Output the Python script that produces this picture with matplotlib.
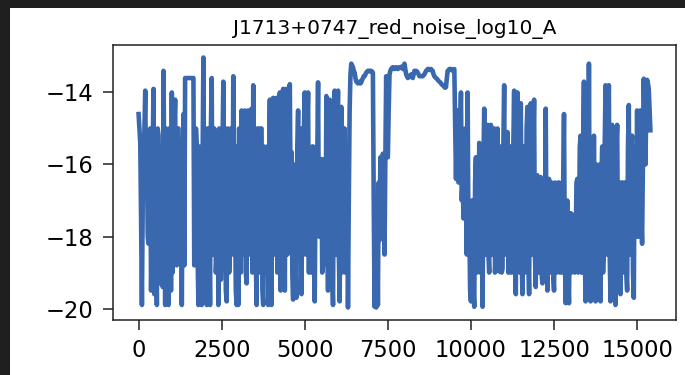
import matplotlib
matplotlib.use("Agg")
import matplotlib.pyplot as plt
import numpy as np
from matplotlib.patches import Rectangle

title = "J1713+0747_red_noise_log10_A"
step = 25

# red noise log10_A chain, one value every 25 iterations (20 values per row)
log10_A = [
    -14.6, -15.0, -15.4, -17.5, -19.9, -17.0, -16.2, -15.0, -13.95, -16.5, -15.8, -18.0, -18.2, -16.0, -15.0, -19.5, -18.0, -15.5, -13.9, -19.6,
    -16.5, -18.0, -19.9, -15.0, -15.2, -19.3, -18.9, -15.5, -16.0, -19.4, -13.4, -16.5, -19.9, -15.0, -15.5, -19.0, -19.9, -15.0, -16.2, -19.5,
    -14.0, -19.0, -17.5, -15.0, -14.2, -18.0, -18.8, -15.0, -15.0, -18.5, -17.0, -15.5, -19.9, -16.5, -14.6, -18.8, -13.6, -13.6, -13.6, -13.6,
    -13.6, -13.6, -13.6, -13.6, -13.6, -13.6, -13.6, -18.8, -18.0, -15.0, -15.5, -18.5, -19.9, -15.5, -16.8, -19.5, -19.9, -16.0, -13.03, -17.5,
    -15.7, -19.5, -19.9, -15.0, -15.0, -18.0, -19.9, -15.0, -13.6, -18.5, -17.5, -15.0, -15.2, -19.0, -18.5, -15.5, -19.9, -15.0, -15.5, -19.2,
    -17.8, -15.5, -13.7, -17.0, -16.2, -19.5, -19.8, -15.0, -15.5, -19.0, -18.0, -15.0, -15.0, -18.5, -13.55, -16.0, -17.0, -19.5, -19.9, -15.5,
    -19.9, -15.0, -16.0, -19.0, -14.5, -16.5, -18.5, -15.0, -14.5, -19.0, -19.3, -15.0, -14.5, -18.5, -17.5, -15.0, -14.45, -19.0, -13.8, -16.5,
    -16.5, -18.5, -19.9, -15.0, -15.0, -19.0, -18.5, -15.0, -15.0, -19.5, -19.9, -15.5, -16.6, -19.0, -18.0, -15.5, -19.9, -16.0, -14.2, -18.5,
    -19.9, -15.0, -14.15, -18.5, -18.0, -15.0, -14.15, -19.0, -17.5, -15.0, -14.0, -19.5, -16.5, -18.5, -13.9, -16.5, -19.5, -15.0, -13.9, -18.5,
    -17.0, -15.0, -13.77, -17.0, -15.65, -19.0, -19.75, -16.0, -16.5, -19.0, -19.7, -15.5, -14.5, -18.5, -18.0, -15.0, -19.6, -17.0, -16.5, -15.0,
    -14.0, -18.5, -17.5, -15.0, -14.0, -19.0, -16.8, -18.5, -19.0, -15.5, -15.5, -18.5, -19.8, -16.5, -16.0, -15.9, -13.72, -18.0, -17.5, -15.9,
    -15.85, -19.0, -18.8, -16.0, -15.85, -18.5, -14.1, -17.5, -19.5, -15.5, -14.2, -18.5, -17.0, -19.0, -19.9, -15.5, -13.95, -18.0, -18.5, -15.0,
    -13.95, -18.5, -19.8, -15.5, -14.4, -19.0, -17.5, -15.0, -15.0, -19.0, -19.0, -15.5, -19.97, -17.0, -14.5, -13.5, -13.2, -13.25, -13.3, -13.4,
    -13.45, -13.6, -13.7, -13.72, -13.75, -13.72, -13.7, -13.75, -13.72, -13.65, -13.6, -13.55, -13.55, -13.5, -13.45, -13.42, -13.4, -13.4, -13.4, -13.42,
    -13.4, -13.42, -13.45, -17.0, -19.95, -18.5, -19.97, -17.0, -19.9, -16.5, -18.1, -15.8, -16.3, -18.0, -15.7, -17.5, -18.5, -15.8, -13.55, -15.8,
    -15.8, -14.5, -13.5, -13.4, -13.35, -13.32, -13.3, -13.32, -13.35, -13.32, -13.3, -13.32, -13.35, -13.32, -13.3, -13.3, -13.3, -13.28, -13.35, -13.3,
    -13.2, -13.35, -13.5, -13.55, -13.6, -13.58, -13.55, -13.52, -13.5, -13.55, -13.6, -13.5, -13.4, -13.42, -13.4, -13.42, -13.45, -13.5, -13.55, -13.55,
    -13.55, -13.55, -13.55, -13.52, -13.5, -13.45, -13.4, -13.38, -13.35, -13.35, -13.35, -13.38, -13.35, -13.38, -13.4, -13.5, -13.55, -13.58, -13.6, -13.62,
    -13.65, -13.68, -13.7, -13.72, -13.75, -13.78, -13.8, -13.82, -13.85, -13.87, -13.85, -13.6, -13.4, -13.38, -13.35, -13.35, -13.35, -13.38, -13.4, -13.38,
    -13.35, -14.8, -16.4, -15.0, -14.5, -16.5, -16.4, -15.0, -14.0, -17.0, -16.2, -17.5, -17.3, -15.0, -15.0, -18.5, -14.0, -18.0, -17.5, -19.5,
    -19.8, -17.0, -17.0, -19.5, -19.95, -16.5, -15.8, -19.0, -17.5, -18.5, -15.4, -19.0, -19.0, -17.5, -19.95, -16.0, -14.45, -18.5, -18.5, -15.5,
    -14.9, -18.5, -19.0, -15.5, -14.9, -18.5, -17.8, -15.5, -15.0, -19.0, -18.5, -15.5, -15.0, -18.5, -18.97, -15.5, -16.0, -19.0, -18.9, -15.5,
    -13.8, -18.5, -18.0, -15.5, -15.1, -19.0, -19.0, -15.5, -15.5, -19.0, -17.8, -15.5, -13.95, -18.5, -19.6, -16.0, -14.0, -18.5, -17.0, -19.0,
    -14.3, -18.5, -19.6, -15.5, -15.5, -19.0, -18.0, -15.0, -14.4, -18.5, -19.6, -15.5, -14.3, -18.5, -18.5, -15.5, -14.2, -18.5, -19.4, -16.5,
    -16.3, -19.0, -18.0, -16.5, -16.35, -19.0, -19.3, -16.5, -16.6, -18.5, -14.45, -18.5, -19.5, -16.5, -16.4, -19.0, -18.5, -16.5, -16.6, -19.0,
    -19.5, -16.5, -16.7, -19.0, -18.0, -16.5, -16.5, -19.0, -17.5, -16.8, -19.0, -16.5, -14.6, -18.5, -19.85, -17.5, -17.0, -19.0, -19.85, -17.5,
    -17.35, -19.0, -18.8, -17.4, -17.4, -19.0, -18.5, -16.5, -16.4, -19.0, -18.0, -15.5, -15.2, -19.0, -19.0, -15.5, -13.7, -18.5, -19.8, -16.0,
    -15.5, -18.5, -13.2, -18.5, -19.8, -16.0, -16.0, -19.0, -15.2, -18.5, -19.8, -16.0, -16.5, -19.0, -18.5, -16.0, -19.8, -16.5, -15.5, -19.0,
    -18.2, -15.5, -13.8, -18.5, -17.0, -15.0, -13.8, -18.5, -19.8, -15.5, -14.9, -18.5, -17.5, -19.0, -19.9, -15.5, -14.9, -18.5, -16.5, -19.0,
    -19.6, -16.5, -16.5, -19.0, -18.5, -16.5, -16.6, -19.0, -19.5, -15.5, -14.35, -18.5, -17.0, -15.5, -15.2, -19.0, -19.7, -16.0, -15.5, -18.0,
    -14.5, -18.0, -18.0, -15.0, -14.5, -17.5, -18.2, -16.0, -13.62, -15.0, -16.0, -14.5, -13.65, -13.75, -13.9, -14.5, -15.05,
]
yticks = [-14, -16, -18, -20]
xticks = [0, 2500, 5000, 7500, 10000, 12500, 15000]

iters = np.arange(len(log10_A)) * step

fig = plt.figure(figsize=(6.85, 3.75), dpi=100)
fig.patch.set_facecolor("white")
# dark strips of the screenshot on the top and left
for r in [(0, 1 - 8 / 375, 1, 8 / 375), (0, 0, 10 / 685, 1)]:
    fig.add_artist(Rectangle(r[:2], r[2], r[3], transform=fig.transFigure,
                             facecolor="#1f1f1f", edgecolor="none"))

ax = fig.add_axes([113 / 685, 1 - 320 / 375, (676 - 113) / 685, (320 - 45) / 375])
ax.plot(iters, log10_A, color="#3a68ae", lw=3.3)

ax.set_title(title, fontsize=14.5, pad=8)
ax.set_xticks(xticks)
ax.set_yticks(yticks)
ax.set_yticklabels([f"\u2212{abs(t)}" for t in yticks])
ax.tick_params(labelsize=16.3, length=7, width=1.1, pad=7, color="#222222")
for s in ax.spines.values():
    s.set_linewidth(1.1)
    s.set_color("#222222")

fig.savefig("out.png", dpi=100)
